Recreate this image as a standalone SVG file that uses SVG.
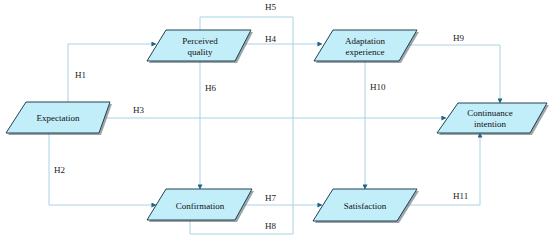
<svg xmlns="http://www.w3.org/2000/svg" width="550" height="239" viewBox="0 0 550 239">
<defs>
<style>
.shape{fill:#c2eefa;stroke:#24404f;stroke-width:1}
.shadow{fill:#5a6a72;opacity:0.6}
.lbl{font-family:"Liberation Serif",serif;font-size:9px;fill:#111;text-anchor:middle}
.edge{font-family:"Liberation Serif",serif;font-size:9px;fill:#222}
.conn{fill:none;stroke:#a9d2e3;stroke-width:1}
</style>
<marker id="ah" viewBox="0 0 6 6" refX="5.5" refY="3" markerWidth="5" markerHeight="5" orient="auto" markerUnits="userSpaceOnUse">
<path d="M0,0 L6,3 L0,6 z" fill="#1b6688"/>
</marker>
</defs>
<rect width="550" height="239" fill="#ffffff"/>
<g id="connectors">
<polyline class="conn" points="68,102 68,44 156,44" marker-end="url(#ah)"/>
<polyline class="conn" points="49,133 49,205 156,205" marker-end="url(#ah)"/>
<polyline class="conn" points="106,118 446,118" marker-end="url(#ah)"/>
<polyline class="conn" points="243,44 322,44" marker-end="url(#ah)"/>
<polyline class="conn" points="200,30 200,17 293,17 293,234 190,234 190,220"/>
<polyline class="conn" points="200,61 200,189" marker-end="url(#ah)"/>
<polyline class="conn" points="244,205 322,205" marker-end="url(#ah)"/>
<polyline class="conn" points="365,61 365,189" marker-end="url(#ah)"/>
<polyline class="conn" points="409,45 500,45 500,103" marker-end="url(#ah)"/>
<polyline class="conn" points="407,205 480,205 480,133" marker-end="url(#ah)"/>
<text class="edge" x="75" y="78">H1</text>
<text class="edge" x="54" y="173">H2</text>
<text class="edge" x="133" y="113">H3</text>
<text class="edge" x="265" y="42">H4</text>
<text class="edge" x="265" y="10">H5</text>
<text class="edge" x="205" y="91">H6</text>
<text class="edge" x="265" y="201">H7</text>
<text class="edge" x="265" y="229">H8</text>
<text class="edge" x="453" y="41">H9</text>
<text class="edge" x="370" y="90">H10</text>
<text class="edge" x="453" y="199">H11</text>
</g>
<g id="expectation">
<polygon class="shadow" points="28,104 112,104 101,135 8,135"/>
<polygon class="shape" points="26,102 110,102 99,133 6,133"/>
<text class="lbl" x="58" y="121">Expectation</text>
</g>
<g id="perceived-quality">
<polygon class="shadow" points="168,32 253,32 237,63 149,63"/>
<polygon class="shape" points="166,30 251,30 235,61 147,61"/>
<text class="lbl" x="200" y="44">Perceived</text>
<text class="lbl" x="200" y="55">quality</text>
</g>
<g id="adaptation-experience">
<polygon class="shadow" points="335,32 419,32 401,63 316,63"/>
<polygon class="shape" points="333,30 417,30 399,61 314,61"/>
<text class="lbl" x="365" y="44">Adaptation</text>
<text class="lbl" x="365" y="55">experience</text>
</g>
<g id="continuance-intention">
<polygon class="shadow" points="460,105 549,105 532,135 439,135"/>
<polygon class="shape" points="458,103 547,103 530,133 437,133"/>
<text class="lbl" x="490" y="116">Continuance</text>
<text class="lbl" x="490" y="127">intention</text>
</g>
<g id="confirmation">
<polygon class="shadow" points="168,191 254,191 237,222 149,222"/>
<polygon class="shape" points="166,189 252,189 235,220 147,220"/>
<text class="lbl" x="200" y="209">Confirmation</text>
</g>
<g id="satisfaction">
<polygon class="shadow" points="335,191 419,191 399,223 315,223"/>
<polygon class="shape" points="333,189 417,189 397,221 313,221"/>
<text class="lbl" x="365" y="209">Satisfaction</text>
</g>
</svg>
